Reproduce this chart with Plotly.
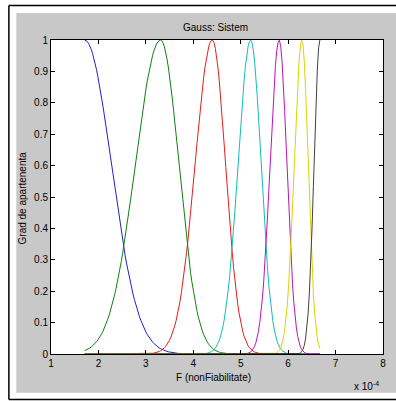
import numpy as np
import plotly.graph_objects as go

# Membership functions (x in units of 1e-4)
series_names = ["mf1", "mf2", "mf3", "mf4", "mf5", "mf6", "mf7"]
centers = [1.71, 3.31, 4.40, 5.21, 5.81, 6.29, 6.67]
sigma_left = [0.56, 0.53, 0.36, 0.265, 0.19, 0.16, 0.123]
sigma_right = [0.56, 0.385, 0.28, 0.22, 0.163, 0.133, 0.12]
x_range = [1.71, 6.67]
x_ticks = [1, 2, 3, 4, 5, 6, 7, 8]
y_ticks = [0, 0.1, 0.2, 0.3, 0.4, 0.5, 0.6, 0.7, 0.8, 0.9, 1]
y_ticktext = ["0", "0.1", "0.2", "0.3", "0.4", "0.5", "0.6", "0.7", "0.8", "0.9", "1"]
colors = ["#1f1fd0", "#118011", "#e81c1c", "#12bcbc", "#bc12bc", "#d6d600", "#404040"]

x = np.linspace(x_range[0], x_range[1], 181)


def gauss2mf(xv, c, sl, sr):
    s = np.where(xv < c, sl, sr)
    return np.exp(-((xv - c) ** 2) / (2 * s ** 2))


fig = go.Figure()
for name, c, sl, sr, col in zip(series_names, centers, sigma_left, sigma_right, colors):
    fig.add_trace(go.Scatter(x=x, y=gauss2mf(x, c, sl, sr), mode="lines", name=name,
                             line=dict(color=col, width=1), showlegend=False,
                             hoverinfo="skip"))

FONT = "Liberation Sans, Arial, Helvetica, sans-serif"
W, H = 396, 401
L, R, T, B = 51, 10, 40, 47
pw, ph = W - L - R, H - T - B


def px(xp):
    return (xp - L) / pw


def py(yp):
    return (H - B - yp) / ph


axis_common = dict(showline=True, linecolor="#000000", linewidth=1, mirror="ticks",
                   ticks="inside", ticklen=4, tickcolor="#000000", showgrid=False,
                   zeroline=False, tickfont=dict(family=FONT, size=10, color="#000000"))

border = dict(color="#000000", width=1.5)

fig.update_layout(
    width=W, height=H, autosize=False,
    margin=dict(l=L, r=R, t=T, b=B, pad=0),
    paper_bgcolor="#ffffff", plot_bgcolor="#ffffff",
    xaxis=dict(range=[1, 8], tickvals=x_ticks, **axis_common),
    yaxis=dict(range=[0, 1], tickvals=y_ticks, ticktext=y_ticktext, **axis_common),
    shapes=[
        dict(type="rect", xref="paper", yref="paper", x0=px(16), x1=px(400), y0=py(392.7), y1=py(13),
             fillcolor="#c8c8c8", line=dict(width=0), layer="below"),
        dict(type="rect", xref="paper", yref="paper", x0=0, x1=1, y0=0, y1=1,
             fillcolor="#ffffff", line=dict(width=0), layer="below"),
        dict(type="line", xref="paper", yref="paper", x0=px(8.5), x1=px(8.5), y0=py(399.5), y1=py(5.5),
             line=border),
        dict(type="line", xref="paper", yref="paper", x0=px(8.5), x1=px(400), y0=py(5.5), y1=py(5.5),
             line=border),
        dict(type="line", xref="paper", yref="paper", x0=px(8.5), x1=px(400), y0=py(399.5), y1=py(399.5),
             line=border),
    ],
    annotations=[
        dict(text="Gauss: Sistem", xref="paper", yref="paper", x=px(216.5), y=py(27.5),
             xanchor="center", yanchor="middle", showarrow=False,
             font=dict(family=FONT, size=10, color="#000000")),
        dict(text="F (nonFiabilitate)", xref="paper", yref="paper", x=px(215), y=py(377.5),
             xanchor="center", yanchor="middle", showarrow=False,
             font=dict(family=FONT, size=10, color="#000000")),
        dict(text="Grad de apartenenta", xref="paper", yref="paper", x=px(22.7), y=py(197.5),
             xanchor="center", yanchor="middle", showarrow=False, textangle=-90,
             font=dict(family=FONT, size=10, color="#000000")),
        dict(text="x 10<sup>-4</sup>", xref="paper", yref="paper", x=px(384), y=py(386),
             xanchor="right", yanchor="middle", showarrow=False,
             font=dict(family=FONT, size=10, color="#000000")),
    ],
)

fig.write_html("out.html",
               config={"responsive": False, "displayModeBar": False, "staticPlot": True},
               post_script="document.body.style.margin='0';document.body.style.overflow='hidden';")
